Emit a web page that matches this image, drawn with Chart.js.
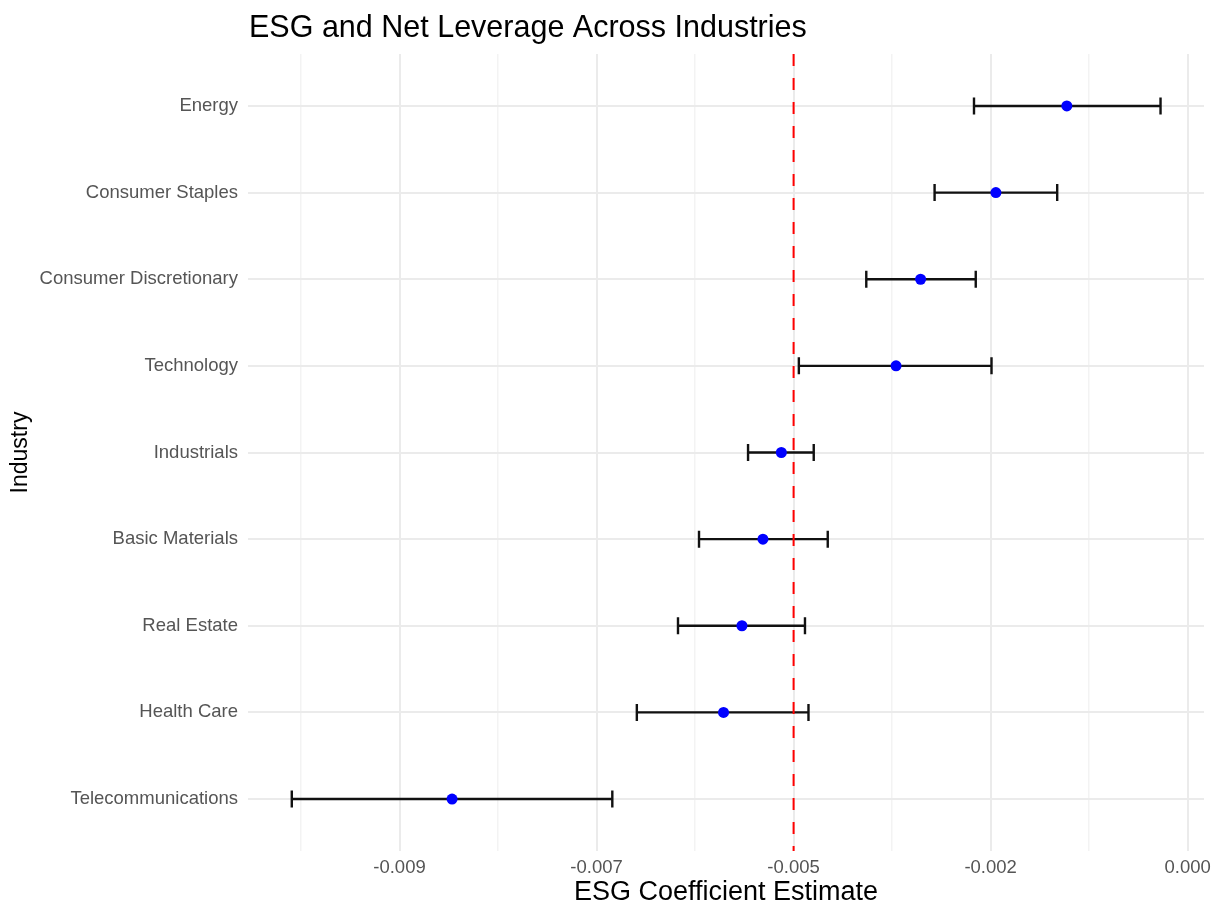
<!DOCTYPE html>
<html>
<head>
<meta charset="utf-8">
<script src="https://cdn.jsdelivr.net/npm/chart.js@4.4.1/dist/chart.umd.min.js"></script>
<style>
  html, body { margin: 0; padding: 0; background: #ffffff; }
  #wrap { width: 1217px; height: 904px; position: relative; }
</style>
</head>
<body>
<div id="wrap"><canvas id="c" width="1217" height="904"></canvas></div>
<script>
const chartTitle = "ESG and Net Leverage Across Industries";
const xAxisTitle = "ESG Coefficient Estimate";
const yAxisTitle = "Industry";
const categories = ["Energy", "Consumer Staples", "Consumer Discretionary", "Technology", "Industrials", "Basic Materials", "Real Estate", "Health Care", "Telecommunications"];
const estimates = [-0.00138, -0.00219, -0.00305, -0.00333, -0.00464, -0.00485, -0.00509, -0.00530, -0.00840];
const lowerCI   = [-0.00244, -0.00289, -0.00367, -0.00444, -0.00502, -0.00558, -0.00582, -0.00629, -0.01023];
const upperCI   = [-0.00031, -0.00149, -0.00242, -0.00224, -0.00427, -0.00411, -0.00437, -0.00433, -0.00657];
const referenceLine = -0.0045;
const majorTickValues = [-0.009, -0.00675, -0.0045, -0.00225, 0];
const majorTickLabels = ["-0.009", "-0.007", "-0.005", "-0.002", "0.000"];
const minorTickValues = [-0.010125, -0.007875, -0.005625, -0.003375, -0.001125];
const xMin = -0.01073, xMax = 0.000186;

const FONT = "'Liberation Sans', Arial, Helvetica, sans-serif";

function isMajor(v) {
  return majorTickValues.some(m => Math.abs(m - v) < 1e-9);
}

const errorBarPlugin = {
  id: 'errorBars',
  beforeDatasetsDraw(chart) {
    const {ctx, scales: {x, y}} = chart;
    ctx.save();
    ctx.strokeStyle = '#111111';
    ctx.lineWidth = 2.4;
    ctx.lineCap = 'butt';
    const cap = 8.5;
    for (let i = 0; i < categories.length; i++) {
      const yp = y.getPixelForValue(i);
      const x1 = x.getPixelForValue(lowerCI[i]);
      const x2 = x.getPixelForValue(upperCI[i]);
      ctx.beginPath();
      ctx.moveTo(x1, yp); ctx.lineTo(x2, yp);
      ctx.moveTo(x1, yp - cap); ctx.lineTo(x1, yp + cap);
      ctx.moveTo(x2, yp - cap); ctx.lineTo(x2, yp + cap);
      ctx.stroke();
    }
    ctx.restore();
  },
  afterDatasetsDraw(chart) {
    const {ctx, chartArea, scales: {x}} = chart;
    const xp = x.getPixelForValue(referenceLine);
    ctx.save();
    ctx.strokeStyle = '#ff0000';
    ctx.lineWidth = 2;
    ctx.setLineDash([12, 12]);
    ctx.beginPath();
    ctx.moveTo(xp, chartArea.top);
    ctx.lineTo(xp, chartArea.bottom);
    ctx.stroke();
    ctx.restore();
  },
  afterDraw(chart) {
    const {ctx, chartArea} = chart;
    ctx.save();
    ctx.fillStyle = '#000000';
    ctx.font = "30.5px " + FONT;
    ctx.textAlign = 'left';
    ctx.textBaseline = 'middle';
    ctx.fillText(chartTitle, chartArea.left + 1, 29);
    ctx.restore();
  }
};

new Chart(document.getElementById('c'), {
  type: 'scatter',
  data: {
    datasets: [{
      data: estimates.map((v, i) => ({x: v, y: i})),
      backgroundColor: '#0000ff',
      borderColor: '#0000ff',
      borderWidth: 0,
      pointRadius: 5.5,
      pointHoverRadius: 5.5
    }]
  },
  options: {
    responsive: false,
    animation: false,
    layout: { padding: { top: 54, left: 0, right: 10, bottom: 0 } },
    plugins: { legend: { display: false }, tooltip: { enabled: false }, title: { display: false } },
    scales: {
      x: {
        type: 'linear',
        min: xMin,
        max: xMax,
        afterBuildTicks(scale) {
          scale.ticks = minorTickValues.concat(majorTickValues).sort((a, b) => a - b).map(v => ({value: v}));
        },
        afterFit(scale) { scale.height = 53; },
        border: { display: false },
        grid: {
          drawTicks: false,
          color: ctx => isMajor(ctx.tick.value) ? '#ebebeb' : '#f3f3f3',
          lineWidth: ctx => isMajor(ctx.tick.value) ? 2 : 1.5
        },
        ticks: {
          padding: 6,
          color: '#555555',
          font: { family: FONT, size: 18.5 },
          autoSkip: false,
          maxRotation: 0,
          callback: (v) => {
            const idx = majorTickValues.findIndex(m => Math.abs(m - v) < 1e-9);
            return idx >= 0 ? majorTickLabels[idx] : '';
          }
        },
        title: {
          display: true,
          text: xAxisTitle,
          color: '#000000',
          font: { family: FONT, size: 27, lineHeight: 0.82 },
          padding: { top: 0, bottom: 0 }
        }
      },
      y: {
        type: 'linear',
        reverse: true,
        min: -0.6,
        max: categories.length - 1 + 0.6,
        afterBuildTicks(scale) {
          scale.ticks = categories.map((c, i) => ({value: i}));
        },
        afterFit(scale) { scale.width = 248; },
        border: { display: false },
        grid: { drawTicks: false, color: '#ebebeb', lineWidth: 2 },
        ticks: {
          padding: 10,
          color: '#555555',
          font: { family: FONT, size: 18.5 },
          autoSkip: false,
          callback: (v) => categories[v] !== undefined ? categories[v] : ''
        },
        title: {
          display: true,
          text: yAxisTitle,
          color: '#000000',
          font: { family: FONT, size: 23, lineHeight: 1.2 },
          padding: { top: 7, bottom: 0 }
        }
      }
    }
  },
  plugins: [errorBarPlugin]
});
</script>
</body>
</html>
